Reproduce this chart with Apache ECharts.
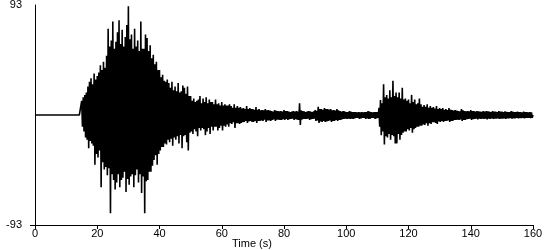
<!DOCTYPE html>
<html>
<head>
<meta charset="utf-8">
<script src="https://cdn.jsdelivr.net/npm/echarts@6/dist/echarts.min.js"></script>
<style>html,body{margin:0;padding:0;background:#fff}#c{width:550px;height:250px}</style>
</head>
<body>
<div id="c"></div>
<script>
// sample spacing (s) and start time of the record
const dt = 0.25;
const t0 = 0;
// x tick labels / y tick values
const xTicks = [0, 20, 40, 60, 80, 100, 120, 140, 160];
const yLimit = 93;
const yUnit = 'cm/s/s';
const xName = 'Time (s)';
// acceleration (cm/s/s), one value every dt seconds
const preEvent = [
  0,0,0,0,0,0,0,0,0,0,
  0,0,0,0,0,0,0,0,0,0,
  0,0,0,0,0,0,0,0,0,0,
  0,0,0,0,0,0,0,0,0,0,
  0,0,0,0,0,0,0,0,0,0,
  0,0,0,0,0,0,0,0,0,0
];
const mainShock = [
  12,-10,15,-14, 17,-19,19,-21, 24,-28,28,-22, 31,-24,26,-26, 35,-42,30,-33,
  33,-36,36,-30, 42,-61,38,-40, 45,-46,40,-44, 50,-51,73,-45, 58,-83,63,-50,
  79,-55,56,-63, 62,-57,70,-50, 80,-61,60,-55, 72,-53,58,-48, 66,-65,76,-54,
  92,-59,64,-52, 68,-50,56,-61, 73,-51,58,-46, 63,-57,54,-50, 79,-66,56,-52,
  56,-83,68,-56, 65,-55,54,-48, 59,-48,48,-43, 51,-38,43,-34, 45,-42,38,-33,
  38,-30,32,-27, 34,-27,29,-24, 28,-25,30,-21, 27,-23,23,-20, 28,-26,21,-19,
  24,-21,20,-18, 27,-24,19,-17, 20,-28,25,-18, 23,-17,18,-23, 24,-30,16,-15,
  16,-14,12,-16, 14,-12,11,-14, 12,-18,13,-11, 16,-13,10,-11, 14,-12,11,-17,
  15,-14,10,-11, 13,-16,11,-10, 11,-13,9,-10, 13,-10,9,-13, 10,-11,8,-9,
  11,-13,8,-9, 9,-10,8,-8, 8,-10,9,-7, 7.6,-7.6,6,-6, 9,-11,6,-7,
  7.6,-7,6,-7.6, 6.8,-6.8,5.5,-6, 5.9,-5.9,5,-5, 7.6,-6.8,5,-5.5, 5.9,-5,5,-5.9,
  5,-5.9,4.5,-5, 6.8,-6.8,4.5,-5, 5,-5,4,-4.5, 4.2,-5,4,-4, 5,-5.9,4,-4.5,
  4.2,-4.5,3.8,-5, 3.4,-4.2,3,-3.8, 4.2,-5,3.5,-4, 3.4,-4,3.2,-4.2, 3.4,-4.2,3,-3.6,
  4.2,-4.2,3.4,-3.4, 3.4,-4.2,3,-3.6, 2.5,-3.4,2.8,-3.2, 3.4,-4.2,3,-3.5, 3.4,-4,3,-4.2,
  10,-8.5,4,-4, 3.4,-3.4,3,-3.2, 2.5,-3.4,3,-3, 3.4,-4.2,3,-3.5, 2.5,-3.4,3,-3.2,
  4.2,-5,3.5,-4.5, 7,-6.8,5,-5.5, 5.1,-5.9,4.5,-5, 5.9,-5.9,5,-5.5, 5.1,-5.1,4.5,-4.5,
  5.1,-5.9,4,-5, 4.2,-5.1,3.8,-4.2, 5.1,-5.1,4,-4.2, 3.4,-4.2,3,-3.6, 3.4,-3.4,3,-3,
  2.5,-3.4,2.5,-3, 3.4,-3.4,2.8,-3, 2.5,-3.4,2.5,-2.8, 2.5,-2.5,2.2,-2.5, 2.5,-3.4,2.3,-2.8,
  2.5,-2.5,2.2,-2.4, 2.5,-3.4,2.5,-2.8, 3.4,-3.4,2.8,-3, 2.5,-2.5,2.3,-2.5, 2.5,-3.4,2.5,-2.8
];
const secondShock = [
  2.5,-2.5,6,-10, 12.7,-17,10,-14, 26,-25,15,-18, 17,-19,14,-16, 21,-21,15,-17,
  29,-18,16,-24, 19,-24,15,-16, 19,-21,14,-17, 23,-15,13,-14, 14,-14,12,-12,
  13,-13,10,-11, 17,-15,11,-12, 13,-11,9,-10, 10,-10,14,-9, 9,-9,7,-8,
  8.5,-8.5,7,-7, 9,-9,6,-7, 7.6,-7.6,6,-6, 6.8,-6,5.5,-6.8, 7.6,-7.6,5,-5.5,
  5.9,-5.9,5,-5, 5.9,-5.9,4.5,-5, 5.1,-5.1,4.2,-4.5, 5.9,-5.9,4.5,-5, 4.2,-5.1,3.8,-4.2,
  4.2,-4.2,3.8,-4, 3.4,-4.2,3.2,-3.8, 5.1,-5.1,4,-4.2, 3.4,-4.2,3.2,-3.6, 3.4,-3.4,3,-3.2,
  4.2,-4.2,3.4,-3.6, 3.4,-3.4,2.8,-3, 3.4,-3.8,3,-3.2, 2.8,-3.4,2.6,-3, 3.4,-3.4,2.8,-3,
  3.4,-3.8,3,-3.2, 2.8,-3.4,2.5,-2.8, 3.4,-3.4,2.8,-3, 2.8,-3,2.5,-2.8, 3.4,-3.4,2.8,-3,
  2.8,-3,2.5,-2.8, 3,-3.4,2.6,-2.8, 2.5,-2.8,2.4,-2.6, 3.4,-3,2.8,-2.8, 2.5,-2.8,2.4,-2.5,
  2.8,-2.8,2.5,-2.6, 2.5,-2.6,2.2,-2.5, 2.8,-2.8,2.4,-2.5, 2.4,-2.5,2.2,-2.4, 2.5,-2.6,2.2,-2.3,
  0
];

const accel = preEvent.concat(mainShock, secondShock);
const seriesData = accel.map((v, i) => [t0 + i * dt, v]);

const FONT = '"Liberation Sans", Arial, sans-serif';
const chart = echarts.init(document.getElementById('c'), null, {renderer: 'canvas'});
chart.setOption({
  animation: false,
  backgroundColor: '#fff',
  grid: {left: 35, right: 17, top: 5, bottom: 25, containLabel: false, outerBoundsMode: 'none'},
  xAxis: {
    type: 'value',
    min: xTicks[0],
    max: xTicks[xTicks.length - 1],
    interval: xTicks[1] - xTicks[0],
    axisLine: {onZero: false, lineStyle: {color: '#000', width: 1}},
    axisTick: {show: true, length: 4, lineStyle: {color: '#000'}},
    axisLabel: {color: '#000', fontSize: 11, fontFamily: FONT, margin: 3},
    splitLine: {show: false}
  },
  yAxis: {
    type: 'value',
    min: -yLimit,
    max: yLimit,
    interval: 2 * yLimit,
    name: yUnit,
    nameLocation: 'middle',
    nameRotate: 90,
    nameGap: 19,
    nameTextStyle: {color: '#000', fontSize: 10, fontFamily: FONT},
    axisLine: {show: true, onZero: false, lineStyle: {color: '#000', width: 1}},
    axisTick: {show: false},
    axisLabel: {color: '#000', fontSize: 11, fontFamily: FONT, margin: 13},
    splitLine: {show: false}
  },
  graphic: [
    {type: 'line', shape: {x1: 30, y1: 225.5, x2: 35, y2: 225.5}, style: {stroke: '#000', lineWidth: 1}},
    {type: 'text', left: 232, top: 238, style: {text: xName, fill: '#000', font: '11px ' + FONT}}
  ],
  series: [{
    type: 'line',
    data: seriesData,
    showSymbol: false,
    symbol: 'none',
    lineStyle: {color: '#000', width: 1.6},
    silent: true
  }]
});
</script>
</body>
</html>
